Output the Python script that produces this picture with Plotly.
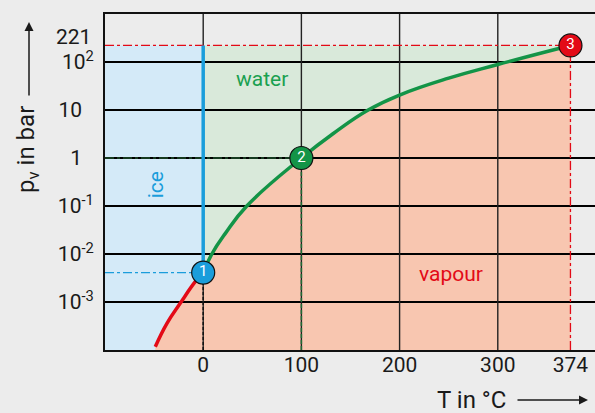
import plotly.graph_objects as go

# ---------------- data ----------------
T_sub = [-48.8, -36.9, -23.4, -8.1, 0]                 # sublimation curve (ice/vapour), °C
p_sub = [1.17e-4, 3.6e-4, 9.4e-4, 2.65e-3, 4.1e-3]     # bar

T_vap = [0, 8.8, 22.4, 44.4, 100, 132.5, 168, 200, 250, 300, 374]        # vapour pressure curve, °C
p_vap = [4.1e-3, 0.01, 0.0266, 0.1, 1, 3.24, 10, 20.5, 46, 88.7, 221]    # bar

pts_T = [0, 100, 374]          # triple point, boiling point, critical point
pts_p = [4.1e-3, 1, 221]
pts_lbl = ["1", "2", "3"]

FS = "\u2007"  # figure space: keeps "1" and "10" aligned with the base of the powers
x_tickvals = [0, 100, 200, 300, 374]
x_ticktext = ["0", "100", "200", "300", "374"]
y_tickvals = [1e-3, 1e-2, 1e-1, 1, 10, 100]
y_ticktext = ["10<sup>-3</sup>", "10<sup>-2</sup>", "10<sup>-1</sup>", "1" + FS, "10" + FS, "10<sup>2</sup>"]
p_crit_label = "221"
x_grid = [0, 100, 200, 300]
y_grid = [1e-3, 1e-2, 1e-1, 1, 10, 100]

X_MIN, X_MAX = -100, 399
Y_MIN, Y_MAX = 1e-4, 1e3

# ---------------- styles ----------------
BG = "#ececec"
ICE_FILL = "#d4eaf8"
WATER_FILL = "#d9e9da"
VAP_FILL = "#f8c6b0"
BLUE = "#1a9ddb"
GREEN = "#139447"
RED = "#e30a17"
FONT = "Roboto"
SMOOTH = 1.3

fig = go.Figure()
nohover = dict(hoverinfo="skip", showlegend=False)

T_c, p_c = pts_T[2], pts_p[2]
T_t, p_t = pts_T[0], pts_p[0]

# ice region
fig.add_trace(go.Scatter(x=[X_MIN, T_t, T_t, X_MIN], y=[Y_MIN, Y_MIN, p_c, p_c],
                         fill="toself", fillcolor=ICE_FILL, mode="lines",
                         line=dict(width=0), **nohover))
# water region
fig.add_trace(go.Scatter(x=[T_t, T_c, T_c, T_t], y=[Y_MIN, Y_MIN, p_c, p_c],
                         fill="toself", fillcolor=WATER_FILL, mode="lines",
                         line=dict(width=0), **nohover))
# vapour region: baseline then curve with tonexty
fig.add_trace(go.Scatter(x=[T_sub[0], T_c], y=[Y_MIN, Y_MIN], mode="lines",
                         line=dict(width=0), **nohover))
fig.add_trace(go.Scatter(x=T_sub + T_vap[1:], y=p_sub + p_vap[1:], mode="lines",
                         line=dict(width=0, shape="spline", smoothing=SMOOTH), fill="tonexty",
                         fillcolor=VAP_FILL, **nohover))

# grid lines (drawn over the fills)
for v in y_grid:
    fig.add_trace(go.Scatter(x=[X_MIN, X_MAX], y=[v, v], mode="lines",
                             line=dict(color="#000000", width=2), **nohover))
for v in x_grid:
    fig.add_trace(go.Scatter(x=[v, v], y=[Y_MIN, Y_MAX], mode="lines",
                             line=dict(color="#222222", width=1.4), **nohover))

# guide lines to the special points
fig.add_trace(go.Scatter(x=[X_MIN, T_t], y=[p_t, p_t], mode="lines",
                         line=dict(color=BLUE, width=1.3, dash="dashdot"), **nohover))
fig.add_trace(go.Scatter(x=[T_t, T_t], y=[Y_MIN, p_t], mode="lines",
                         line=dict(color="#111111", width=1.5, dash="3px,2px"), **nohover))
fig.add_trace(go.Scatter(x=[X_MIN, pts_T[1]], y=[pts_p[1], pts_p[1]], mode="lines",
                         line=dict(color="#1d4d2a", width=1.5, dash="dashdot"), **nohover))
fig.add_trace(go.Scatter(x=[pts_T[1], pts_T[1]], y=[Y_MIN, pts_p[1]], mode="lines",
                         line=dict(color="#1d6a35", width=1.5, dash="4px,2px"), **nohover))
fig.add_trace(go.Scatter(x=[X_MIN, T_c], y=[p_c, p_c], mode="lines",
                         line=dict(color=RED, width=1.3, dash="dashdot"), **nohover))
fig.add_trace(go.Scatter(x=[T_c, T_c], y=[Y_MIN, p_c], mode="lines",
                         line=dict(color=RED, width=1.3, dash="dashdot"), **nohover))

# melting line (ice / water) at 0 °C
fig.add_trace(go.Scatter(x=[T_t, T_t], y=[p_t, p_c], mode="lines",
                         line=dict(color=BLUE, width=3.5), **nohover))

# curves
fig.add_trace(go.Scatter(x=T_sub, y=p_sub, mode="lines",
                         line=dict(color=RED, width=3.5, shape="spline", smoothing=SMOOTH), **nohover))
fig.add_trace(go.Scatter(x=T_vap, y=p_vap, mode="lines",
                         line=dict(color=GREEN, width=3.5, shape="spline", smoothing=SMOOTH), **nohover))

# special points
fig.add_trace(go.Scatter(x=pts_T, y=pts_p, mode="markers+text", text=pts_lbl,
                         textposition="middle center",
                         textfont=dict(family=FONT, size=15, color="white"),
                         marker=dict(size=23, color=[BLUE, GREEN, RED],
                                     line=dict(color="#111111", width=1.2)),
                         cliponaxis=False, **nohover))

axis_font = dict(family=FONT, size=21, color="#1a1a1a")
W, H, L, T_M, B = 595, 413, 105, 14, 63
PW = W - L
PH = H - T_M - B

fig.update_layout(
    width=W, height=H,
    margin=dict(l=L, r=0, t=T_M, b=B),
    paper_bgcolor=BG, plot_bgcolor=BG,
    font=dict(family=FONT, color="#1a1a1a"),
    showlegend=False,
    xaxis=dict(range=[X_MIN, X_MAX], showgrid=False, zeroline=False, automargin=False,
               showline=True, mirror=True, linecolor="#111111", linewidth=2,
               tickvals=x_tickvals, ticktext=x_ticktext, ticks="",
               ticklabelstandoff=-5, tickfont=axis_font),
    yaxis=dict(type="log", range=[-4, 3], showgrid=False, zeroline=False, automargin=False,
               showline=True, mirror=False, linecolor="#111111", linewidth=2,
               tickvals=y_tickvals, ticktext=y_ticktext, ticks="",
               ticklabelstandoff=5, tickfont=axis_font),
    annotations=[
        # critical pressure label, set just above the 10^2 label
        dict(text=p_crit_label, xref="paper", yref="paper", x=0, xshift=-12,
             y=(350 - 37) / PH, xanchor="right", yanchor="middle", showarrow=False,
             font=axis_font),
        # axis titles
        dict(text="T in °C", xref="paper", yref="paper", x=(508 - L) / PW,
             y=(350 - 400) / PH, xanchor="right", yanchor="middle", showarrow=False,
             font=dict(family=FONT, size=24, color="#1a1a1a")),
        dict(text="", xref="paper", yref="paper", x=(588 - L) / PW,
             y=(350 - 400) / PH, ax=-72, ay=0, showarrow=True, arrowhead=2,
             arrowsize=1.2, arrowwidth=1.5, arrowcolor="#1a1a1a"),
        dict(text="p<sub>v</sub> in bar", xref="paper", yref="paper",
             x=(27 - L) / PW, y=(350 - 150) / PH, textangle=-90,
             xanchor="center", yanchor="middle", showarrow=False,
             font=dict(family=FONT, size=24, color="#1a1a1a")),
        dict(text="", xref="paper", yref="paper", x=(29 - L) / PW,
             y=(350 - 22) / PH, ax=0, ay=75, showarrow=True, arrowhead=2,
             arrowsize=1.2, arrowwidth=1.5, arrowcolor="#1a1a1a"),
        # region labels
        dict(text="water", x=60, y=1.646, xref="x", yref="y", showarrow=False,
             font=dict(family=FONT, size=21, color="#1aa050")),
        dict(text="vapour", x=252.7, y=-2.42, xref="x", yref="y", showarrow=False,
             font=dict(family=FONT, size=21, color=RED)),
        dict(text="ice", x=-47.8, y=-0.5625, xref="x", yref="y", showarrow=False,
             textangle=-90, font=dict(family=FONT, size=21, color=BLUE)),
    ],
)

fig.write_html(
    "out.html",
    config={"displayModeBar": False},
    post_script="document.body.style.margin='0';document.body.style.overflow='hidden';",
)
